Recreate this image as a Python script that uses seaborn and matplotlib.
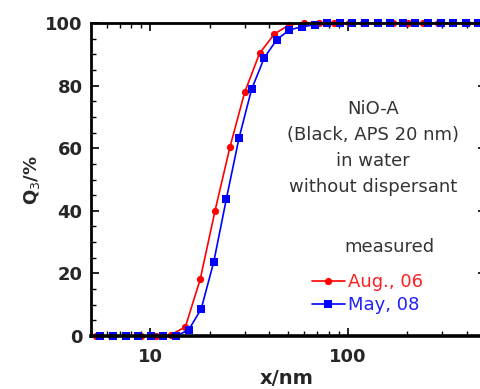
import numpy as np
import pandas as pd
import matplotlib
matplotlib.use("Agg")
import matplotlib.pyplot as plt
import seaborn as sns
from matplotlib.ticker import LogLocator, MultipleLocator, NullFormatter, FixedLocator, FixedFormatter

# ---- data ----
aug06_x = [5.32, 6.32, 7.52, 8.94, 10.63, 12.64, 15.02, 17.86, 21.23, 25.25, 30.01,
           35.68, 42.42, 50.43, 59.96, 71.27, 84.74, 100.7, 119.8, 142.4, 169.3,
           201.2, 239.3, 284.4, 338.2, 402.0, 478.0]
aug06_q = [0, 0, 0, 0, 0, 0.3, 2.9, 18.1, 40.0, 60.3, 77.9, 90.3, 96.5, 99.4, 100,
           100, 100, 100, 100, 100, 100, 100, 100, 100, 100, 100, 100]

may08_x = [5.575, 6.457, 7.478, 8.664, 10.03, 11.62, 13.46, 15.59, 18.06, 20.92,
           24.23, 28.07, 32.51, 37.65, 43.61, 50.51, 58.51, 67.77, 78.50, 90.93,
           105.3, 122.0, 141.3, 163.6, 189.5, 219.5, 254.3, 294.4, 341.1, 395.1, 457.6]
may08_q = [0, 0, 0, 0, 0, 0, 0, 1.9, 8.6, 23.7, 43.8, 63.2, 78.8, 88.8, 94.7, 97.8,
           98.8, 99.4, 99.9, 100, 100, 100, 100, 100, 100, 100, 100, 100, 100, 100, 100]

series_labels = ["Aug., 06", "May, 08"]
x_ticks = [10, 100]
x_ticklabels = ["10", "100"]
y_ticks = [0, 20, 40, 60, 80, 100]
annotation = "NiO-A\n(Black, APS 20 nm)\nin water\nwithout dispersant"

df_a = pd.DataFrame({"x": aug06_x, "q": aug06_q})
df_m = pd.DataFrame({"x": may08_x, "q": may08_q})

sns.set_style("ticks")
plt.rcParams["font.family"] = ["DejaVu Sans"]

W, H = 481, 389
fig = plt.figure(figsize=(W / 100, H / 100), dpi=100)
ax = fig.add_axes([91 / W, 1 - 336 / H, (486 - 91) / W, (336 - 23) / H])

red = "#ff0000"
blue = "#0000ff"
sns.lineplot(data=df_a, x="x", y="q", ax=ax, color=red, marker="o", markersize=5.2,
             markeredgewidth=0, linewidth=1.2, label=series_labels[0], clip_on=False)
sns.lineplot(data=df_m, x="x", y="q", ax=ax, color=blue, marker="s", markersize=5.2,
             markeredgewidth=0, linewidth=1.2, label=series_labels[1], clip_on=False)

ax.set_xscale("log")
ax.set_xlim(5, 500)
ax.set_ylim(0, 100)

ax.xaxis.set_major_locator(FixedLocator(x_ticks))
ax.xaxis.set_major_formatter(FixedFormatter(x_ticklabels))
ax.xaxis.set_minor_locator(LogLocator(base=10, subs=np.arange(2, 10)))
ax.xaxis.set_minor_formatter(NullFormatter())
ax.yaxis.set_major_locator(FixedLocator(y_ticks))
ax.yaxis.set_minor_locator(MultipleLocator(5))

for s in ax.spines.values():
    s.set_visible(True)
    s.set_linewidth(2.0)
    s.set_color("black")
ax.spines["bottom"].set_linewidth(2.6)

ax.tick_params(which="both", direction="in", top=True, right=True, color="black")
ax.tick_params(which="major", length=6, width=1.2, pad=6)
ax.tick_params(which="minor", length=3.5, width=1.0)
for lab in ax.get_xticklabels() + ax.get_yticklabels():
    lab.set_fontweight("bold")
    lab.set_fontsize(13)
ax.tick_params(axis="x", pad=9)

ax.set_xlabel("x/nm", fontsize=14, fontweight="bold")
ax.set_ylabel("Q$_3$/%", fontsize=13, fontweight="bold")
ax.xaxis.set_label_coords((287 - 91) / (486 - 91), -(369 - 336) / (336 - 23))
ax.yaxis.set_label_coords(-(91 - 42) / (486 - 91), (336 - 180) / (336 - 23))

tc = "#333333"
fig.text(373 / W, 1 - 148 / H, annotation, ha="center", va="center", fontsize=13,
         color=tc, linespacing=1.55)
fig.text(389 / W, 1 - 247 / H, "measured", ha="center", va="center", fontsize=13, color=tc)

leg = ax.legend(loc="upper left", bbox_to_anchor=(312 / W, 1 - 273 / H),
                bbox_transform=fig.transFigure, frameon=False, fontsize=13,
                handlelength=1.8, handletextpad=0.2, labelspacing=0.3,
                borderpad=0, borderaxespad=0)
for t, c in zip(leg.get_texts(), ["#ff2020", "#2020ff"]):
    t.set_color(c)

fig.savefig("out.png", dpi=100)
